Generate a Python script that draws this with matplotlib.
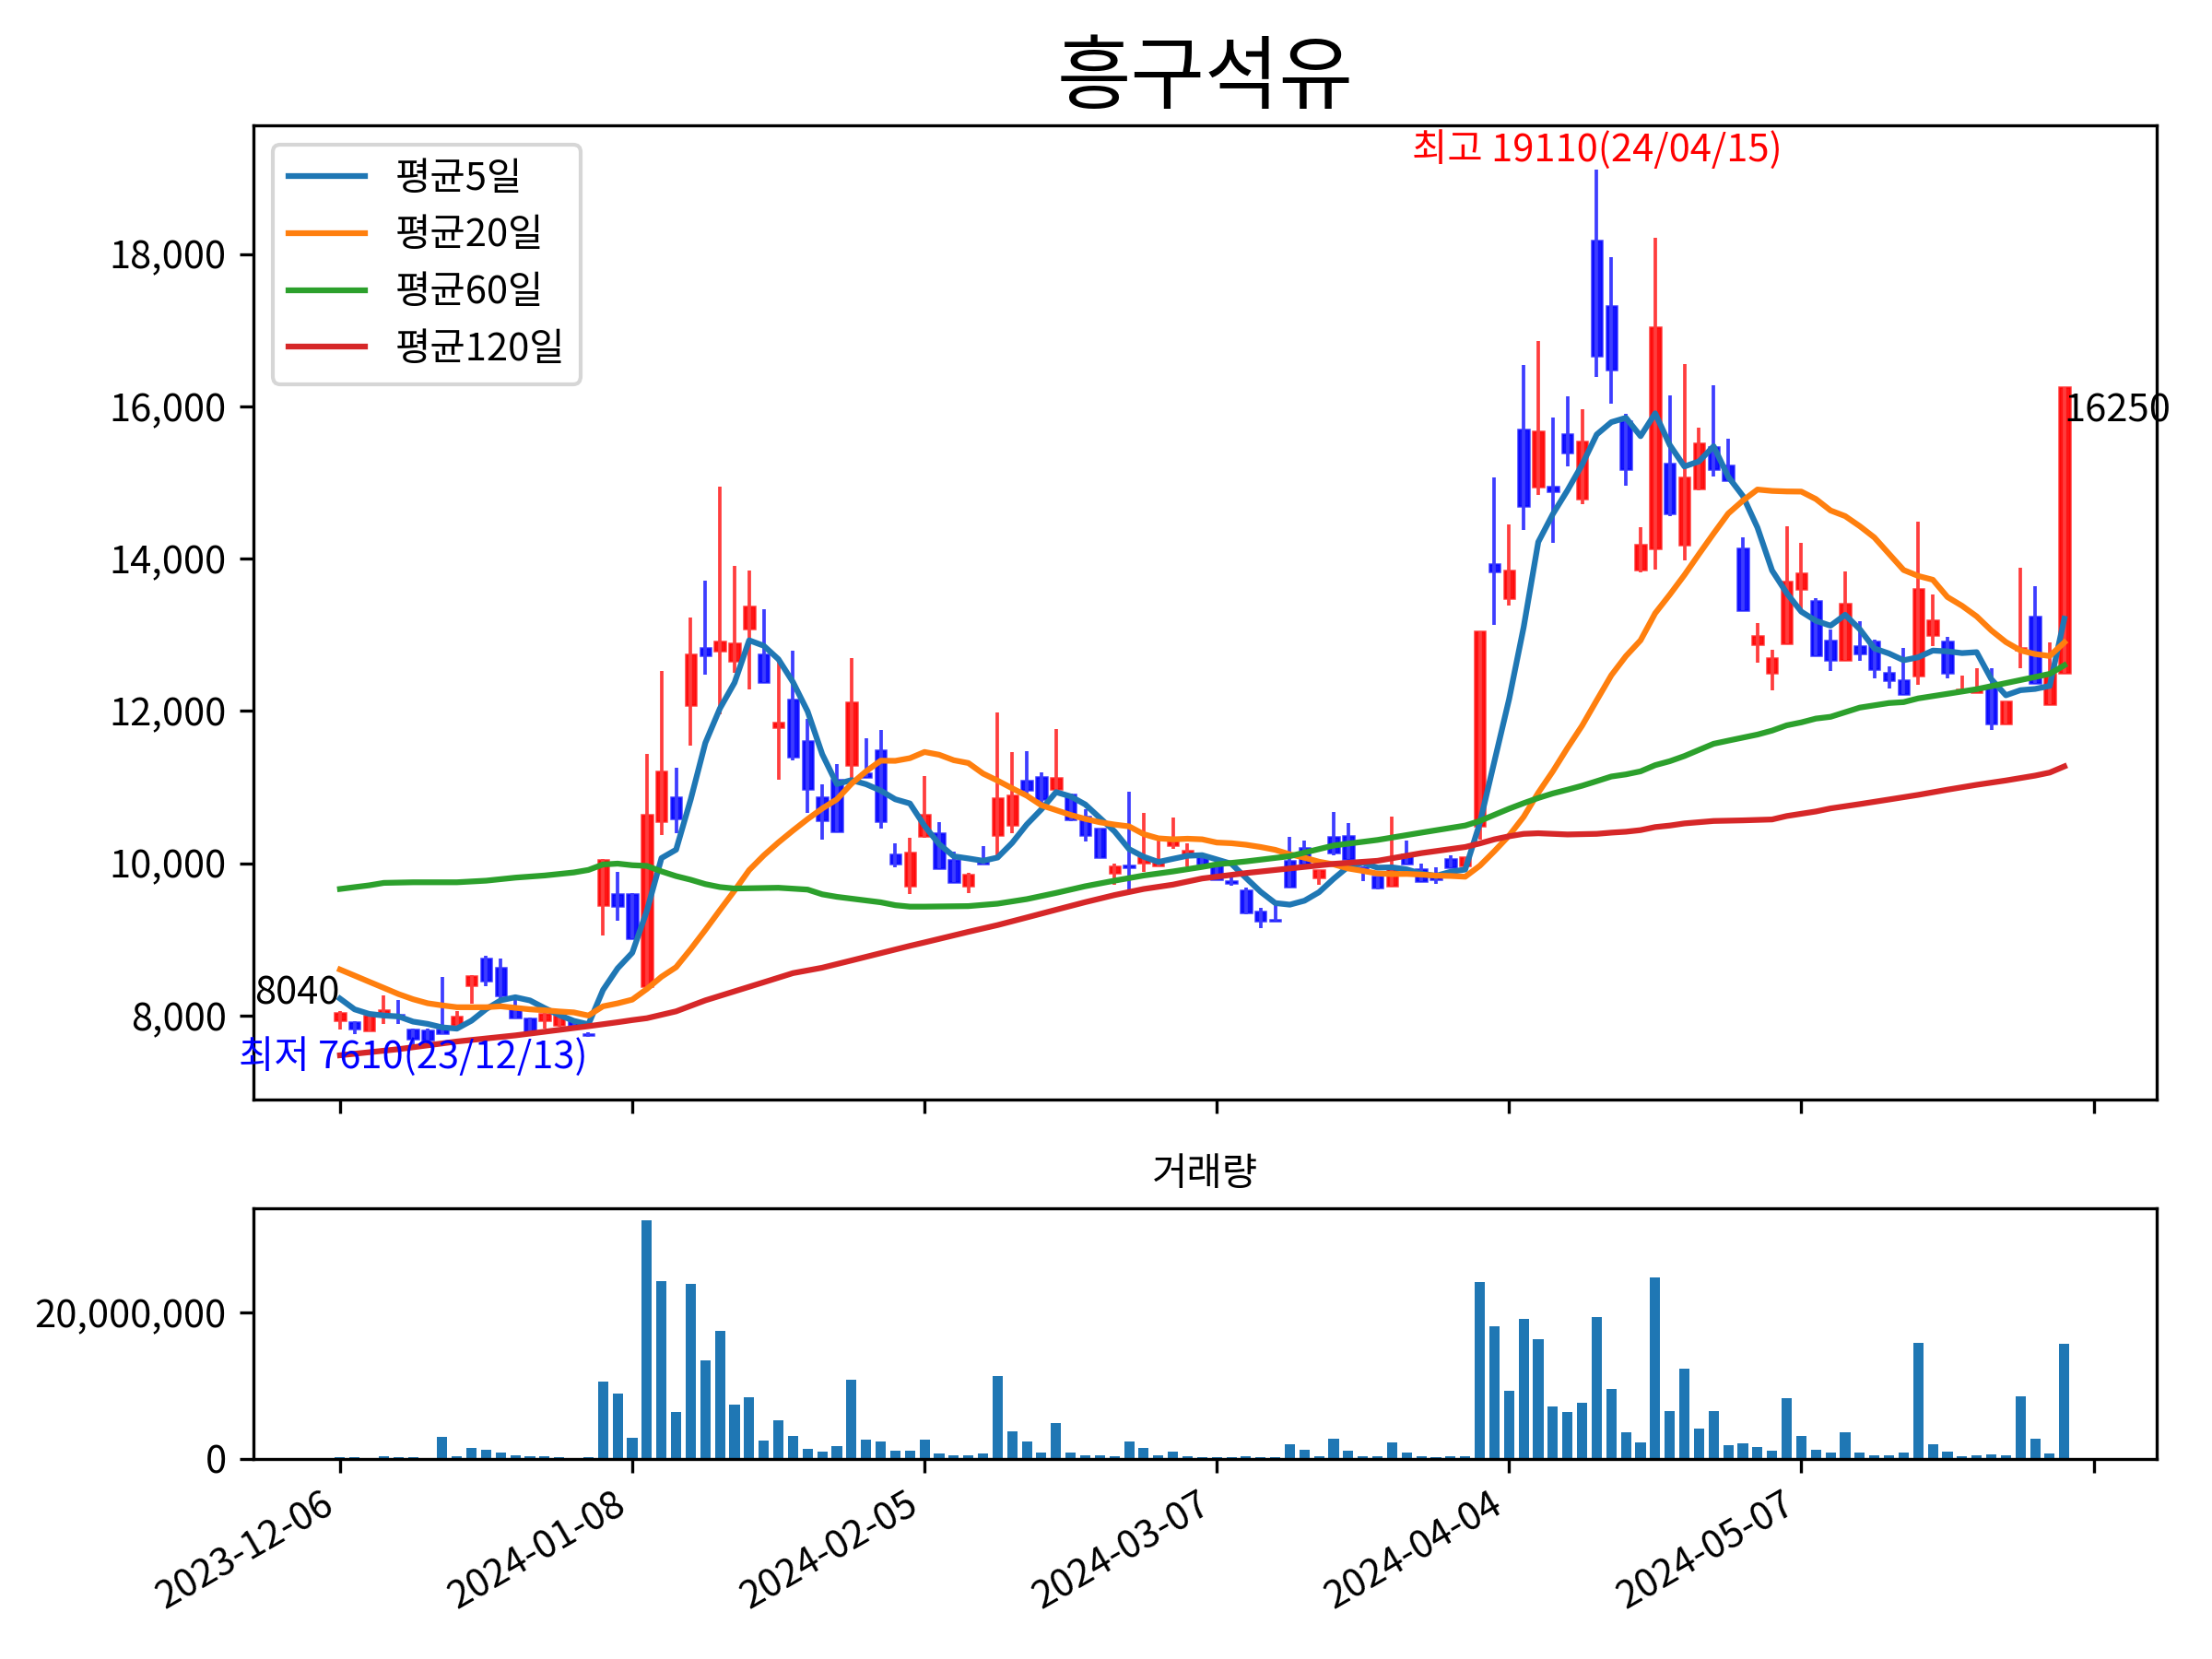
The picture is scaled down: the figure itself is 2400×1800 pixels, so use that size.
import numpy as np
import matplotlib
matplotlib.use('Agg')
import matplotlib.pyplot as plt
from matplotlib.ticker import FuncFormatter

plt.rcParams['font.family'] = ['Noto Sans CJK KR', 'DejaVu Sans']

# daily candles (index 0 = 2023-12-06)
opens = [7940, 7910, 7800, 8020, 8010, 7820, 7800, 7820, 7880, 8400,
         8750, 8630, 8110, 7960, 7940, 7880, 7920, 7750, 9450, 9590,
         9600, 8390, 10550, 10870, 12080, 12830, 12790, 12660, 13080, 12740,
         11790, 12150, 11600, 10870, 11100, 11290, 11180, 11480, 10120, 9710,
         10355, 10400, 10045, 9710, 10030, 10375, 10505, 11080, 11130, 10980,
         10900, 10610, 10455, 9870, 9970, 10010, 9970, 10240, 10095, 10110,
         9995, 9760, 9650, 9370, 9260, 10030, 10195, 9810, 10345, 10355,
         9945, 9825, 9700, 10115, 9920, 9830, 10050, 9970, 10495, 13930,
         13485, 15700, 14940, 14950, 15630, 14790, 18180, 17320, 15805, 13855,
         14135, 15250, 14185, 14920, 15465, 15225, 14130, 12880, 12505, 12890,
         13605, 13445, 12920, 12670, 12850, 12910, 12505, 12400, 12465, 13000,
         12910, 12265, 12245, 12325, 11835, 12800, 13245, 12090, 12495]
highs = [8060, 7920, 8000, 8270, 8200, 7830, 7830, 8510, 8060, 8530,
         8780, 8750, 8200, 7970, 8030, 8010, 7940, 7780, 10050, 9890,
         9610, 11440, 12530, 11260, 13230, 13710, 14940, 13910, 13840, 13340,
         12650, 12790, 11900, 11040, 11300, 12690, 11640, 11750, 10260, 10335,
         11150, 10540, 10150, 9880, 10225, 11975, 11460, 11470, 11190, 11760,
         10920, 10710, 10460, 10000, 10940, 10655, 10315, 10605, 10265, 10120,
         10065, 9880, 9680, 9410, 9460, 10345, 10300, 9910, 10675, 10525,
         9960, 9830, 10610, 10295, 9990, 9950, 10110, 10075, 13050, 15070,
         14450, 16540, 16860, 15855, 16130, 15960, 19110, 17965, 15900, 14415,
         18210, 16140, 16550, 15725, 16275, 15575, 14275, 13160, 12800, 14425,
         14210, 13485, 13070, 13835, 13180, 12940, 12585, 12830, 14490, 13525,
         12970, 12465, 12560, 12560, 12130, 13885, 13635, 12895, 16250]
lows = [7820, 7750, 7790, 7890, 7890, 7610, 7670, 7760, 7860, 8160,
        8380, 8230, 7960, 7770, 7830, 7850, 7860, 7720, 9050, 9240,
        9010, 8320, 10370, 10400, 11550, 12480, 11960, 12500, 12280, 12380,
        11100, 11350, 10660, 10310, 10420, 11110, 11130, 10450, 9950, 9595,
        10340, 9930, 9750, 9610, 9985, 10075, 10400, 10920, 10800, 10960,
        10555, 10285, 10070, 9720, 9620, 9890, 9960, 10185, 9960, 9980,
        9790, 9700, 9330, 9150, 9240, 9690, 10000, 9720, 10110, 10050,
        9770, 9660, 9700, 10000, 9770, 9730, 9950, 9970, 10315, 13130,
        13385, 14380, 14840, 14210, 15215, 14710, 16390, 16035, 14960, 13820,
        13855, 14560, 13975, 14900, 15080, 15030, 13330, 12640, 12275, 12890,
        13310, 12730, 12530, 12670, 12655, 12425, 12295, 12225, 12345, 12850,
        12425, 12245, 12245, 11755, 11835, 12565, 12365, 12090, 12495]
closes = [8040, 7830, 8000, 8070, 8000, 7700, 7680, 7770, 7990, 8520,
          8460, 8260, 7970, 7780, 8020, 8000, 7880, 7740, 10040, 9440,
          9020, 10640, 11200, 10590, 12740, 12730, 12910, 12890, 13370, 12380,
          11850, 11400, 10970, 10560, 10420, 12110, 11130, 10550, 9990, 10145,
          10640, 9930, 9750, 9850, 9990, 10855, 10895, 10960, 10840, 11120,
          10575, 10365, 10075, 9960, 9950, 10075, 10025, 10280, 10160, 9990,
          9795, 9740, 9350, 9250, 9250, 9690, 10000, 9910, 10135, 10050,
          9935, 9680, 9930, 10000, 9770, 9790, 9950, 10075, 13050, 13835,
          13850, 14690, 15670, 14890, 15390, 15535, 16670, 16480, 15175, 14185,
          17035, 14590, 15070, 15510, 15180, 15030, 13330, 12990, 12695, 13695,
          13810, 12730, 12670, 13410, 12750, 12545, 12400, 12225, 13605, 13190,
          12495, 12285, 12285, 11835, 12130, 12830, 12365, 12485, 16250]
volumes = [0.2, 0.2, 0.1, 0.35, 0.2, 0.2, 0.1, 3.04, 0.33, 1.46,
           1.21, 0.83, 0.46, 0.33, 0.33, 0.21, 0.1, 0.21, 10.56, 8.94,
           2.83, 32.64, 24.28, 6.44, 23.91, 13.43, 17.55, 7.44, 8.44, 2.45,
           5.32, 3.20, 1.33, 0.96, 1.70, 10.81, 2.58, 2.33, 1.08, 1.08,
           2.58, 0.71, 0.46, 0.46, 0.71, 11.31, 3.83, 2.33, 0.83, 4.95,
           0.83, 0.46, 0.46, 0.33, 2.33, 1.46, 0.46, 0.96, 0.33, 0.21,
           0.21, 0.21, 0.33, 0.21, 0.21, 1.95, 1.21, 0.33, 2.70, 1.08,
           0.33, 0.33, 2.20, 0.83, 0.33, 0.21, 0.33, 0.33, 24.16, 18.17,
           9.31, 19.17, 16.42, 7.19, 6.44, 7.69, 19.42, 9.56, 3.70, 2.20,
           24.78, 6.57, 12.31, 4.20, 6.57, 1.83, 2.08, 1.58, 1.08, 8.32,
           3.20, 1.21, 0.83, 3.70, 0.83, 0.46, 0.46, 0.83, 15.92, 1.95,
           0.96, 0.33, 0.46, 0.58, 0.46, 8.56, 2.70, 0.71, 15.80]  # millions

# moving averages as drawn on the chart
ma5 = [8222, 8081, 8021, 8000, 7988, 7920, 7890, 7844, 7828, 7932,
       8084, 8200, 8240, 8198, 8098, 8006, 7930, 7884, 8336, 8620,
       8824, 9376, 10068, 10178, 10838, 11580, 12034, 12372, 12928, 12856,
       12680, 12378, 11994, 11432, 11040, 11092, 11038, 10954, 10840, 10785,
       10491, 10251, 10091, 10063, 10032, 10075, 10268, 10510, 10708, 10934,
       10878, 10772, 10595, 10419, 10185, 10085, 10017, 10058, 10098, 10106,
       10050, 9993, 9807, 9625, 9477, 9456, 9508, 9620, 9797, 9957,
       10006, 9942, 9946, 9919, 9863, 9834, 9888, 9917, 10527, 11340,
       12152, 13100, 14219, 14587, 14898, 15235, 15631, 15793, 15850, 15609,
       15909, 15493, 15211, 15278, 15477, 15076, 14824, 14408, 13845, 13548,
       13304, 13184, 13120, 13263, 13074, 12821, 12755, 12666, 12705, 12793,
       12783, 12760, 12772, 12418, 12206, 12273, 12289, 12329, 13212]
ma20 = [8604, 8524, 8443, 8363, 8282, 8214, 8161, 8133, 8109, 8109,
        8109, 8121, 8101, 8081, 8069, 8053, 8041, 8000, 8121, 8160,
        8209, 8349, 8509, 8635, 8872, 9124, 9385, 9641, 9910, 10103,
        10273, 10430, 10580, 10719, 10839, 11044, 11207, 11347, 11345, 11380,
        11461, 11425, 11353, 11316, 11178, 11085, 10984, 10887, 10761, 10698,
        10634, 10582, 10538, 10508, 10484, 10382, 10327, 10314, 10322, 10314,
        10272, 10263, 10243, 10213, 10176, 10117, 10073, 10020, 9985, 9931,
        9899, 9865, 9858, 9860, 9851, 9837, 9833, 9823, 9967, 10159,
        10362, 10610, 10926, 11208, 11515, 11807, 12140, 12469, 12721, 12928,
        13283, 13528, 13785, 14061, 14331, 14593, 14762, 14908, 14890, 14883,
        14881, 14783, 14633, 14559, 14427, 14278, 14064, 13851, 13773, 13723,
        13496, 13381, 13242, 13058, 12905, 12795, 12747, 12722, 12900]
ma60_idx = [0, 2, 3, 5, 8, 10, 12, 14, 16, 17, 18, 19, 20, 21, 22, 23, 24, 25,
            26, 27, 30, 32, 33, 34, 35, 37, 38, 39, 40, 43, 45, 47, 49, 51,
            53, 55, 57, 59, 60, 62, 65, 68, 71, 74, 77, 78, 79, 80, 81, 82,
            83, 84, 85, 86, 87, 88, 89, 90, 91, 92, 93, 94, 95, 96, 97, 98,
            99, 100, 101, 102, 104, 106, 107, 108, 110, 112, 114, 116, 117, 118]
ma60 = [9662, 9710, 9742, 9750, 9750, 9771, 9811, 9839, 9879, 9912, 9984, 9995,
        9974, 9965, 9893, 9831, 9783, 9726, 9687, 9668, 9678, 9654, 9592, 9559,
        9535, 9487, 9449, 9430, 9430, 9437, 9469, 9529, 9610, 9698, 9771, 9839,
        9892, 9952, 9985, 10024, 10093, 10233, 10306, 10402, 10495, 10555,
        10636, 10716, 10789, 10857, 10917, 10966, 11018, 11078, 11139, 11167,
        11207, 11288, 11340, 11408, 11489, 11569, 11610, 11650, 11690, 11742,
        11811, 11850, 11900, 11923, 12044, 12104, 12116, 12165, 12225, 12286,
        12366, 12446, 12487, 12600]
ma120_idx = [0, 4, 8, 12, 17, 19, 20, 21, 23, 25, 27, 29, 31, 33, 35, 37, 39,
             40, 43, 45, 47, 49, 51, 53, 55, 57, 59, 62, 65, 68, 71, 74, 77,
             78, 79, 80, 81, 82, 84, 86, 87, 88, 89, 90, 91, 92, 94, 96, 98,
             99, 100, 101, 102, 104, 106, 108, 110, 112, 114, 116, 117, 118]
ma120 = [7478, 7558, 7659, 7739, 7860, 7912, 7940, 7965, 8055, 8199, 8318,
         8437, 8557, 8628, 8723, 8819, 8915, 8960, 9099, 9188, 9288, 9389,
         9489, 9582, 9662, 9719, 9800, 9871, 9932, 9992, 10032, 10133, 10213,
         10260, 10314, 10354, 10386, 10394, 10378, 10386, 10402, 10414, 10435,
         10475, 10495, 10523, 10555, 10563, 10575, 10620, 10650, 10680, 10720,
         10777, 10837, 10898, 10966, 11030, 11087, 11151, 11191, 11272]

tick_idx = [0, 20, 40, 60, 80, 100, 120]
tick_labels = ['2023-12-06', '2024-01-08', '2024-02-05', '2024-03-07',
               '2024-04-04', '2024-05-07', '']

title = '흥구석유'
hi_idx, hi_text = 86, '최고 19110(24/04/15)'
lo_idx, lo_text = 5, '최저 7610(23/12/13)'

o = np.array(opens)
h = np.array(highs)
l = np.array(lows)
c = np.array(closes)
x = np.arange(len(c))
up = c >= o

fig = plt.figure(figsize=(8, 6), dpi=300)
ax = fig.add_axes([0.1146, 0.3372, 0.8604, 0.5872])
ax2 = fig.add_axes([0.1146, 0.1206, 0.8604, 0.1511], sharex=ax)

# candles: red when close >= open, blue otherwise
wick_col = np.where(up[:, None], [[1, 0.24, 0.24, 1]], [[0.24, 0.24, 1, 1]])
body_col = np.where(up[:, None], [[1, 0, 0, 0.92]], [[0, 0, 1, 0.92]])
edge_col = np.where(up[:, None], [[1, 0, 0, 0.75]], [[0, 0, 1, 0.75]])
ax.vlines(x, l, h, colors=wick_col, linewidth=0.9)
body_h = np.maximum(np.abs(c - o), 8)
ax.bar(x, body_h, bottom=np.minimum(o, c), width=0.72,
       color=body_col, edgecolor=edge_col, linewidth=0.6)

ax.plot(x, ma5, color='C0', lw=1.5, label='평균5일')
ax.plot(x, ma20, color='C1', lw=1.5, label='평균20일')
ax.plot(ma60_idx, ma60, color='C2', lw=1.5, label='평균60일')
ax.plot(ma120_idx, ma120, color='C3', lw=1.5, label='평균120일')

ax.text(0, closes[0], str(closes[0]), ha='right', va='bottom', fontsize=10)
ax.text(x[-1], closes[-1] - 60, str(closes[-1]), ha='left', va='top', fontsize=10)
ax.text(hi_idx, highs[hi_idx], hi_text, color='red', ha='center',
        va='bottom', fontsize=10)
ax.text(lo_idx, lows[lo_idx] - 155, lo_text, color='blue', ha='center',
        va='center', fontsize=10)

ax.set_title(title, fontsize=21)
ax.legend(loc='upper left')
ax.set_ylim(6896, 19690)
ax.set_xlim(-5.92, 124.32)
ax.yaxis.set_major_formatter(FuncFormatter(lambda v, p: f'{v:,.0f}'))
ax.set_yticks([8000, 10000, 12000, 14000, 16000, 18000])
ax.tick_params(labelbottom=False)

# volume
ax2.bar(x, np.array(volumes) * 1e6, width=0.7, color='C0')
ax2.set_title('거래량', fontsize=10)
ax2.set_yticks([0, 20000000])
ax2.yaxis.set_major_formatter(FuncFormatter(lambda v, p: f'{v:,.0f}'))
ax2.set_xticks(tick_idx)
ax2.set_xticklabels(tick_labels, rotation=30, ha='right')

fig.savefig('out.png', dpi=300)
